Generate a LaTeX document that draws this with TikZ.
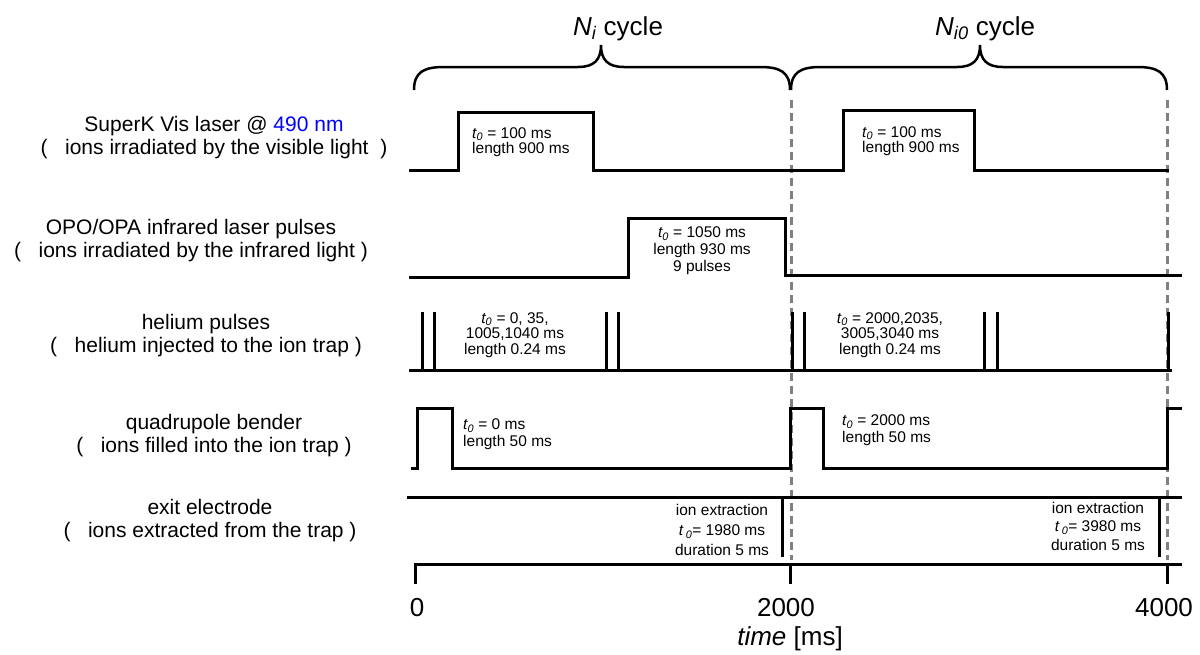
\documentclass[tikz,border=0pt]{standalone}
\usepackage{fontspec}
\setmainfont{Liberation Sans}
\definecolor{dashgray}{RGB}{128,128,128}
\definecolor{nmblue}{RGB}{0,0,255}
\newcommand{\tz}{{\itshape t\textsubscript{0}}}
\begin{document}
\begin{tikzpicture}[x=1pt,y=-1pt,
  sig/.style={line width=3pt, line join=miter, line cap=rect},
  bracepath/.style={line width=2.5pt},
  cycleline/.style={dashgray, line width=3pt, dash pattern=on 8pt off 5pt},
  rowlabel/.style={inner sep=0pt, align=center, font=\fontsize{21}{23}\selectfont},
  boxlabel/.style={inner sep=0pt, font=\fontsize{15.5}{15}\selectfont},
  bigtext/.style={inner sep=0pt, font=\fontsize{26}{30}\selectfont}
]
\useasboundingbox (0,0) rectangle (1200,654);

% cycle braces
\draw[bracepath] (414,90) .. controls (414,72) and (424,67) .. (444,67) -- (578,67)
  .. controls (594,67) and (601,60) .. (601,45)
  .. controls (601,60) and (608,67) .. (624,67) -- (760,67)
  .. controls (780,67) and (790,72) .. (790,90);
\draw[bracepath] (791,90) .. controls (791,72) and (801,67) .. (821,67) -- (957,67)
  .. controls (973,67) and (980,60) .. (980,45)
  .. controls (980,60) and (987,67) .. (1003,67) -- (1137,67)
  .. controls (1157,67) and (1167,72) .. (1167,90);
\node[bigtext, anchor=base west] (ni) at (573,35) {{\itshape N\textsubscript{i}} cycle};
\node[bigtext, anchor=base west] (ni0) at (935,35) {{\itshape N\textsubscript{i0}} cycle};

% cycle boundaries
\draw[cycleline] (791,100) -- (791,560);
\draw[cycleline] (1167,100) -- (1167,560);

% row labels
\node[rowlabel] (l1) at (214,138) {SuperK Vis laser @ \textcolor{nmblue}{490 nm}\\(\ \ \ ions irradiated by the visible light\ \ )};
\node[rowlabel] (l2) at (191,241) {OPO/OPA infrared laser pulses\\(\ \ \ ions irradiated by the infrared light )};
\node[rowlabel] (l3) at (206,336) {helium pulses\\(\ \ \ helium injected to the ion trap )};
\node[rowlabel] (l4) at (214,436) {quadrupole bender\\(\ \ \ ions filled into the ion trap )};
\node[rowlabel] (l5) at (210,521) {exit electrode\\(\ \ \ ions extracted from the trap )};

% row 1: SuperK
\draw[sig] (410,170) -- (458,170) -- (458,112) -- (593,112) -- (593,170) -- (843,170)
  -- (843,110) -- (974,110) -- (974,170) -- (1167,170);
\node[boxlabel, align=left, anchor=west] (b1) at (472,142) {\tz{} = 100 ms\\length 900 ms};
\node[boxlabel, align=left, anchor=west] (b1b) at (862,141) {\tz{} = 100 ms\\length 900 ms};

% row 2: OPO/OPA
\draw[sig] (410,277) -- (628,277) -- (628,218) -- (785,218) -- (785,275) -- (1180,275);
\node[boxlabel, align=center, font=\fontsize{15.5}{17}\selectfont] (b2) at (702,251) {\tz{} = 1050 ms\\length 930 ms\\9 pulses};

% row 3: helium pulses
\draw[sig] (410,370) -- (1170,370);
\foreach \px in {422,434,606,618,792,804,984,997,1168}
  \draw[sig] (\px,370) -- (\px,313);
\node[boxlabel, align=center, font=\fontsize{15.5}{15.5}\selectfont] (b3) at (515,335) {\tz{} = 0, 35,\\1005,1040 ms\\length 0.24 ms};
\node[boxlabel, align=center, font=\fontsize{15.5}{15.5}\selectfont] (b3b) at (890,335) {\tz{} = 2000,2035,\\3005,3040 ms\\length 0.24 ms};

% row 4: quadrupole bender
\draw[sig] (412,468) -- (417,468) -- (417,408) -- (452,408) -- (452,468) -- (790,468)
  -- (790,408) -- (823,408) -- (823,468) -- (1167,468) -- (1167,408) -- (1180,408);
\node[boxlabel, align=left, anchor=west, font=\fontsize{15.5}{16.5}\selectfont] (b4) at (463,434) {\tz{} = 0 ms\\length 50 ms};
\node[boxlabel, align=left, anchor=west, font=\fontsize{15.5}{16.5}\selectfont] (b4b) at (842,430) {\tz{} = 2000 ms\\length 50 ms};

% row 5: exit electrode
\draw[sig] (408,497) -- (1180,497);
\draw[sig] (782,497) -- (782,555);
\draw[sig] (1159,497) -- (1159,555);
\node[boxlabel, align=center, font=\fontsize{15.5}{20}\selectfont] (b5) at (722,530) {ion extraction\\{\itshape t}\,\textsubscript{\itshape 0}= 1980 ms\\duration 5 ms};
\node[boxlabel, align=center, font=\fontsize{15.5}{18.5}\selectfont] (b5b) at (1098,526) {ion extraction\\{\itshape t}\,\textsubscript{\itshape 0}= 3980 ms\\duration 5 ms};

% time axis
\draw[sig] (415,564) -- (1180,564);
\foreach \tx in {415,790,1167}
  \draw[sig] (\tx,564) -- (\tx,582);
\node[bigtext, anchor=base] (t0) at (417,616) {0};
\node[bigtext, anchor=base] (t2) at (786,616) {2000};
\node[bigtext, anchor=base] (t4) at (1164,616) {4000};
\node[bigtext, anchor=base] (tl) at (790,645) {{\itshape time} [ms]};
\end{tikzpicture}
\end{document}
